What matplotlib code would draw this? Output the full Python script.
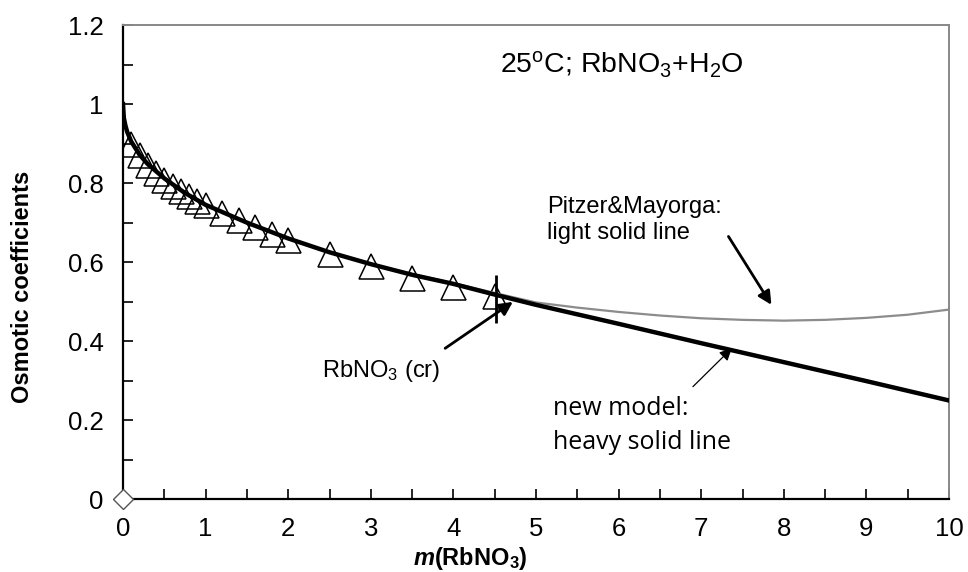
import matplotlib
matplotlib.use("Agg")
import matplotlib.pyplot as plt
from matplotlib.ticker import MultipleLocator

plt.rcParams['font.family'] = ['Liberation Sans', 'DejaVu Sans']
plt.rcParams['mathtext.fontset'] = 'custom'
plt.rcParams['mathtext.rm'] = 'Liberation Sans'
plt.rcParams['mathtext.it'] = 'Liberation Sans:italic:bold'
plt.rcParams['mathtext.bf'] = 'Liberation Sans:bold'

# experimental data (triangles)
exp_m = [0.1, 0.2, 0.3, 0.4, 0.5, 0.6, 0.7, 0.8, 0.9, 1.0, 1.2, 1.4, 1.6, 1.8, 2.0,
         2.5, 3.0, 3.5, 4.0, 4.5]
exp_phi = [0.900, 0.870, 0.846, 0.825, 0.808, 0.793, 0.779, 0.767, 0.755, 0.745,
           0.725, 0.706, 0.690, 0.672, 0.656, 0.621, 0.589, 0.559, 0.536, 0.515]

# new model (heavy solid line)
model_m = [0, 0.01, 0.03, 0.05, 0.1, 0.2, 0.3, 0.5, 0.75, 1.0, 1.5, 2.0, 2.5, 3.0,
           3.5, 4.0, 4.5, 5.0, 6.0, 7.0, 8.0, 9.0, 10.0]
model_phi = [1.0, 0.965, 0.945, 0.930, 0.905, 0.872, 0.848, 0.812, 0.775, 0.745,
             0.700, 0.660, 0.625, 0.595, 0.568, 0.545, 0.518, 0.492, 0.444, 0.395,
             0.347, 0.299, 0.250]

# Pitzer & Mayorga (light solid line)
pm_m = [0, 0.01, 0.03, 0.05, 0.1, 0.2, 0.3, 0.5, 0.75, 1.0, 1.5, 2.0, 2.5, 3.0, 3.5,
        4.0, 4.5, 5.0, 5.5, 6.0, 6.5, 7.0, 7.5, 8.0, 8.5, 9.0, 9.5, 10.0]
pm_phi = [1.0, 0.965, 0.945, 0.930, 0.905, 0.872, 0.848, 0.812, 0.775, 0.745, 0.700,
          0.660, 0.626, 0.596, 0.570, 0.547, 0.522, 0.498, 0.485, 0.474, 0.465, 0.458,
          0.454, 0.452, 0.454, 0.459, 0.467, 0.480]

# solubility marker
sat_m = 4.52
sat_lo, sat_hi = 0.447, 0.568

fig = plt.figure(figsize=(9.68, 5.72), dpi=100)
ax = fig.add_axes([123/968, 1 - 499.3/572, (949-123)/968, (499.3-25)/572])

ax.plot(exp_m, exp_phi, linestyle='none', marker='^', markersize=18,
        markerfacecolor='none', markeredgecolor='black', markeredgewidth=1.1, zorder=2)
ax.plot(pm_m, pm_phi, color='#8c8c8c', lw=1.6, zorder=3)
ax.plot(model_m, model_phi, color='black', lw=3.2, zorder=4)
ax.vlines(sat_m, sat_lo, sat_hi, color='black', lw=2.0, zorder=5)
ax.plot([0], [0], linestyle='none', marker='D', markersize=10, markerfacecolor='white',
        markeredgecolor='#555555', markeredgewidth=1.0, clip_on=False, zorder=6)

ax.set_xlim(0, 10)
ax.set_ylim(0, 1.2)
ax.xaxis.set_major_locator(MultipleLocator(1))
ax.xaxis.set_minor_locator(MultipleLocator(0.5))
ax.yaxis.set_major_locator(MultipleLocator(0.2))
ax.yaxis.set_minor_locator(MultipleLocator(0.1))
ax.set_yticks([0, 0.2, 0.4, 0.6, 0.8, 1.0, 1.2])
ax.set_yticklabels(['0', '0.2', '0.4', '0.6', '0.8', '1', '1.2'])
ax.tick_params(which='both', direction='in', length=7, width=1.2, color='black',
               labelsize=18.5)
ax.tick_params(axis='x', which='both', pad=13)
ax.tick_params(axis='y', which='both', pad=14)
ax.tick_params(which='both', top=False, right=False)

for s in ['left', 'bottom']:
    ax.spines[s].set_color('black')
    ax.spines[s].set_linewidth(1.6)
for s in ['top', 'right']:
    ax.spines[s].set_color('#888888')
    ax.spines[s].set_linewidth(1.4)

ax.set_ylabel('Osmotic coefficients', fontsize=17, fontweight='bold')
ax.yaxis.set_label_coords(-0.108, 0.448)
ax.set_xlabel(r'$\mathit{m}$(RbNO$_\mathbf{3}$)', fontsize=17, fontweight='bold')
ax.xaxis.set_label_coords(0.421, -0.124)
ax.xaxis.label.set_verticalalignment('center')

ax.text(4.56, 1.078, r'25$^\mathrm{o}$C; RbNO$_3$+H$_2$O', fontsize=20.5,
        ha='left', va='baseline')
ax.text(2.41, 0.310, r'RbNO$_3$ (cr)', fontsize=17, ha='left', va='baseline')
ax.text(5.13, 0.724, 'Pitzer&Mayorga:', fontsize=17, ha='left', va='baseline')
ax.text(5.13, 0.658, 'light solid line', fontsize=17, ha='left', va='baseline')
ax.text(5.21, 0.214, 'new model:', fontsize=18, family='Open Sans',
        ha='left', va='baseline')
ax.text(5.21, 0.128, 'heavy solid line', fontsize=18, family='Open Sans',
        ha='left', va='baseline')

ax.annotate('', xy=(4.72, 0.4995), xytext=(3.90, 0.382),
            arrowprops=dict(arrowstyle='-|>', color='black', lw=2.0,
                            mutation_scale=20, shrinkA=0, shrinkB=0), zorder=7)
ax.annotate('', xy=(7.85, 0.492), xytext=(7.33, 0.665),
            arrowprops=dict(arrowstyle='-|>', color='black', lw=2.0,
                            mutation_scale=20, shrinkA=0, shrinkB=0), zorder=7)
ax.annotate('', xy=(7.37, 0.382), xytext=(6.90, 0.285),
            arrowprops=dict(arrowstyle='-|>', color='black', lw=0.9,
                            mutation_scale=18, shrinkA=0, shrinkB=0), zorder=7)

fig.savefig('out.png', dpi=100)
